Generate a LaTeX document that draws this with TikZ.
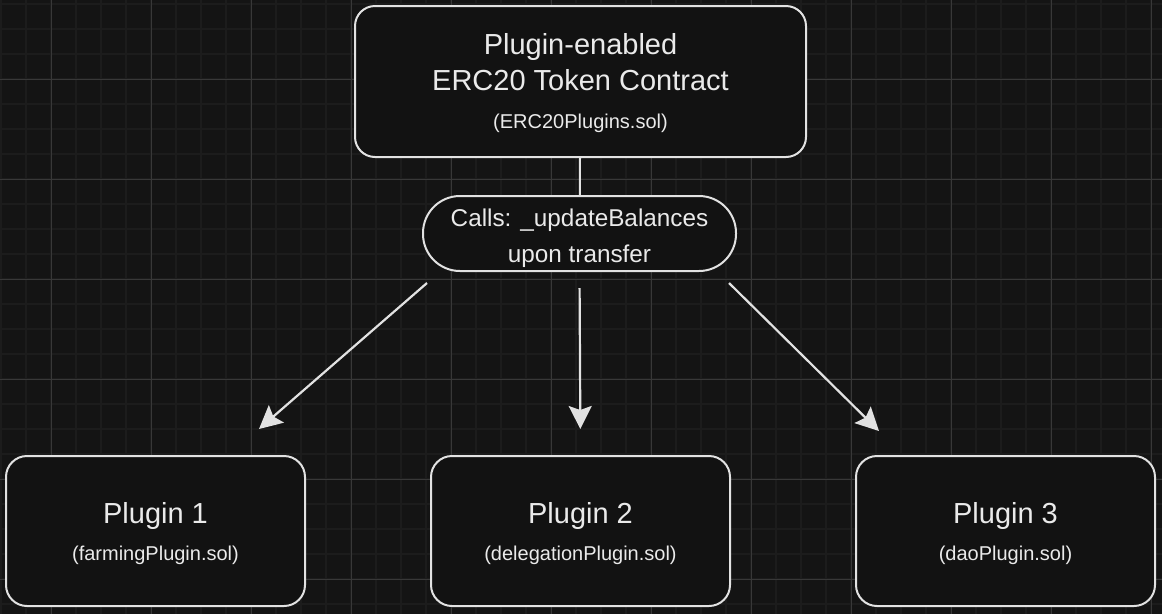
\documentclass[tikz,border=0pt]{standalone}
\usepackage{fontspec}
\setmainfont{Liberation Sans}
\usepackage{xcolor}
\usetikzlibrary{arrows.meta}

\definecolor{bgcol}{HTML}{141414}
\definecolor{boxcol}{HTML}{121212}
\definecolor{minorcol}{HTML}{1C1C1C}
\definecolor{majorcol}{HTML}{383838}
\definecolor{linecol}{HTML}{E2E2E2}
\definecolor{txtcol}{HTML}{EAEAEA}

\tikzset{
  card/.style={draw=linecol, fill=boxcol, line width=2pt, rounded corners=21pt,
    minimum width=299pt, minimum height=150pt, inner sep=0pt, align=center,
    text=txtcol, font=\fontsize{29}{37.6}\selectfont},
  flow/.style={draw=linecol, line width=2.2pt,
    -{Stealth[length=23pt, width=23pt, inset=4pt]}}
}
% invisible strut to push the first line down
\newcommand{\liftby}[1]{\rule{0pt}{#1}}
\newcommand{\subtxt}[1]{{\fontsize{20}{24}\selectfont #1}}

\begin{document}
\begin{tikzpicture}[x=1pt, y=-1pt]
      %
      \useasboundingbox (0,0) rectangle (1162,614);
      \fill[bgcol] (0,0) rectangle (1162,614);

      % grid
      \foreach \gx in {1,26,...,1161}
        \draw[minorcol, line width=1.5pt] (\gx,0) -- (\gx,614);
      \foreach \gy in {4,29,...,613}
        \draw[minorcol, line width=1.5pt] (0,\gy) -- (1162,\gy);
      \foreach \gx in {51,151,...,1151}
        \draw[majorcol, line width=1pt] (\gx,0) -- (\gx,614);
      \foreach \gy in {79,179,...,579}
        \draw[majorcol, line width=1pt] (0,\gy) -- (1162,\gy);

      % token contract
      \node[card, minimum width=451pt, minimum height=151pt, rounded corners=20pt,
        font=\fontsize{29}{36}\selectfont]
        (token) at (580.5,81.5)
        {\liftby{25pt}Plugin-enabled\\ERC20 Token Contract\\[2pt]\subtxt{(ERC20Plugins.sol)}};

      % hook
      \node[card, minimum width=313pt, minimum height=75pt, rounded corners=37pt,
        font=\fontsize{24.3}{36}\selectfont] (hook) at (579.5,233.5)
        {\liftby{27.5pt}Calls: \_updateBalances\\upon transfer};
      \draw[linecol, line width=2pt] (token) -- (hook);

      % plugins
      \node[card] (farming) at (155.5,531)
        {\liftby{26pt}Plugin 1\\\subtxt{(farmingPlugin.sol)}};
      \node[card] (delegation) at (580.5,531)
        {\liftby{26pt}Plugin 2\\\subtxt{(delegationPlugin.sol)}};
      \node[card] (dao) at (1005.5,531)
        {\liftby{26pt}Plugin 3\\\subtxt{(daoPlugin.sol)}};

      \draw[flow] ([xshift=5pt, yshift=-11pt]hook.south west)
        -- ([xshift=-47pt, yshift=26pt]farming.north east);
      \draw[flow, shorten <=16pt, shorten >=26pt] (hook.south) -- (delegation.north);
      \draw[flow] ([xshift=-8pt, yshift=-11pt]hook.south east)
        -- ([xshift=24pt, yshift=24pt]dao.north west);
    \end{tikzpicture}
\end{document}
